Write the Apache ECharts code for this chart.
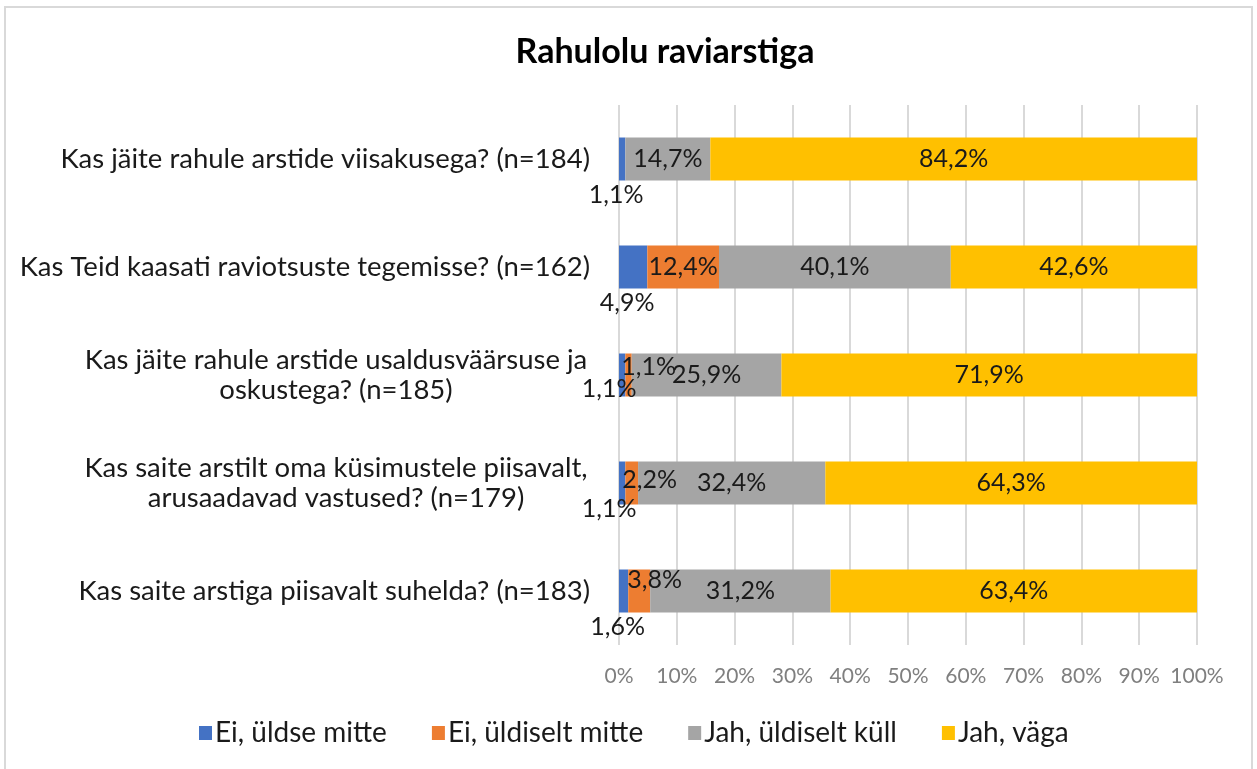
<!DOCTYPE html>
<html>
<head>
<meta charset="utf-8">
<script src="https://cdn.jsdelivr.net/npm/echarts@6/dist/echarts.min.js"></script>
<style>
  html, body { margin: 0; padding: 0; background: #fff; }
  #main { width: 1257px; height: 769px; }
</style>
</head>
<body>
<div id="main"></div>
<script>
var categories = [
  "Kas jäite rahule arstide viisakusega? (n=184)",
  "Kas Teid kaasati raviotsuste tegemisse? (n=162)",
  "Kas jäite rahule arstide usaldusväärsuse ja\noskustega? (n=185)",
  "Kas saite arstilt oma küsimustele piisavalt,\narusaadavad vastused? (n=179)",
  "Kas saite arstiga piisavalt suhelda? (n=183)"
];
var seriesNames = ["Ei, üldse mitte", "Ei, üldiselt mitte", "Jah, üldiselt küll", "Jah, väga"];
var eiUldseMitte = [1.1, 4.9, 1.1, 1.1, 1.6];
var eiUldiseltMitte = [0, 12.4, 1.1, 2.2, 3.8];
var jahUldiseltKull = [14.7, 40.1, 25.9, 32.4, 31.2];
var jahVaga = [84.2, 42.6, 71.9, 64.3, 63.4];
var xTicks = [0, 10, 20, 30, 40, 50, 60, 70, 80, 90, 100];

var colors = ["#4472C4", "#ED7D31", "#A5A5A5", "#FFC000"];
var font = "Lato";

function fmt(p) {
  if (!p.value) return "";
  return p.value.toFixed(1).replace(".", ",") + "%";
}

// small per-bar label nudges, like Excel does to avoid overlaps
var labelTweaks = {
  0: {
    0: { position: "bottom", distance: 2, offset: [-6, 0] },
    1: { position: "bottom", distance: 2, offset: [-6, 0] },
    2: { position: "bottom", distance: 2, offset: [-13, -22] },
    3: { position: "bottom", distance: 2, offset: [-13, -10] },
    4: { position: "bottom", distance: 2, offset: [-6, 0] }
  },
  1: {
    2: { position: "insideLeft", distance: 0, offset: [-4, -8] },
    3: { position: "insideLeft", distance: 0, offset: [-3, -3] },
    4: { position: "insideLeft", distance: 0, offset: [-1, -11] }
  }
};

var allValues = [eiUldseMitte, eiUldiseltMitte, jahUldiseltKull, jahVaga];

var series = allValues.map(function (vals, si) {
  return {
    name: seriesNames[si],
    type: "bar",
    stack: "total",
    barWidth: 43,
    itemStyle: { color: colors[si] },
    label: {
      show: true,
      position: si === 0 ? "bottom" : "inside",
      formatter: fmt,
      color: "#1a1a1a",
      fontFamily: font,
      fontSize: 25
    },
    data: vals.map(function (v, i) {
      var t = labelTweaks[si] && labelTweaks[si][i];
      return t ? { value: v, label: t } : v;
    })
  };
});

var chart = echarts.init(document.getElementById("main"), null, { renderer: "canvas" });
chart.setOption({
  animation: false,
  color: colors,
  title: {
    text: "Rahulolu raviarstiga",
    left: 660,
    top: 30,
    textAlign: "center",
    textStyle: { fontFamily: font, fontSize: 34, fontWeight: "bold", color: "#000" }
  },
  graphic: [{
    type: "rect",
    shape: { x: 5, y: 7, width: 1247, height: 775 },
    style: { fill: "none", stroke: "#d9d9d9", lineWidth: 2 },
    silent: true
  }],
  legend: {
    data: seriesNames,
    left: 194,
    top: 714,
    icon: "rect",
    itemWidth: 13,
    itemHeight: 14,
    itemGap: 45,
    textStyle: { fontFamily: font, fontSize: 28, color: "#1a1a1a", padding: [0, 0, 0, -2] }
  },
  grid: { left: 619, right: 60, top: 105, bottom: 124, containLabel: false },
  xAxis: {
    type: "value",
    min: xTicks[0],
    max: xTicks[xTicks.length - 1],
    interval: 10,
    axisLine: { show: false },
    axisTick: { show: false },
    splitLine: { lineStyle: { color: "#d9d9d9", width: 2 } },
    axisLabel: {
      formatter: "{value}%",
      margin: 21,
      color: "#7f7f7f",
      fontFamily: font,
      fontSize: 21
    }
  },
  yAxis: {
    type: "category",
    inverse: true,
    data: categories,
    axisLine: { show: false },
    axisTick: { show: false },
    axisLabel: {
      margin: 29,
      color: "#1a1a1a",
      fontFamily: font,
      fontSize: 27.5,
      lineHeight: 30,
      formatter: function (v) {
        if (v.indexOf("\n") < 0) return v;
        return v.split("\n").map(function (l) { return "{c|" + l + "}"; }).join("\n");
      },
      rich: {
        c: { width: 508, align: "center", fontFamily: font, fontSize: 27.5, lineHeight: 30, color: "#1a1a1a" }
      }
    }
  },
  series: series
});
</script>
</body>
</html>
